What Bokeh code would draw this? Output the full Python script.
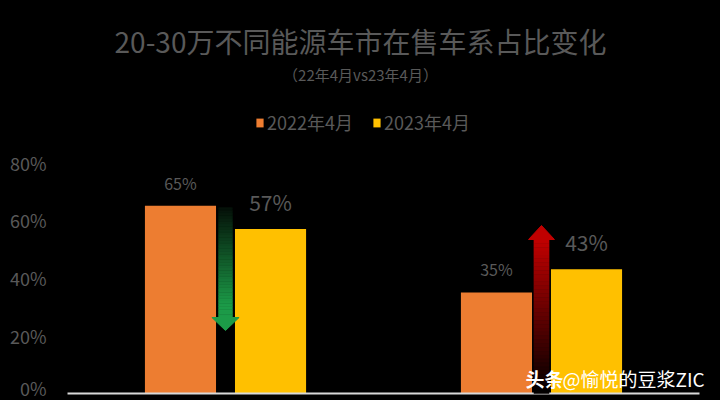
from bokeh.plotting import figure
from bokeh.models import (ColumnDataSource, Range1d, FactorRange, FixedTicker, PrintfTickFormatter,
                          Legend, LegendItem, Label)
from bokeh.transform import dodge
from bokeh.core.properties import value
from bokeh.embed import file_html
from bokeh.resources import INLINE

# ---------------- data ----------------
categories = ["燃油车", "新能源车"]
series_labels = ["2022年4月", "2023年4月"]
share_2022 = [65, 35]
share_2023 = [57, 43]
y_ticks = [0, 20, 40, 60, 80]
title_text = "20-30万不同能源车市在售车系占比变化"
subtitle_text = "（22年4月vs23年4月）"
watermark_head = "头条"
watermark_tail = "@愉悦的豆浆ZIC"

# ---------------- style ----------------
FONT = value("Noto Sans CJK SC")
GRAY = "#595959"
ORANGE = "#ED7D31"
YELLOW = "#FFC000"
W, H = 720, 400
LEFT = 46                      # frame starts here and runs to the right edge
PAD = 0.0665                   # categorical padding (synthetic units) on both sides
PXU = (W - LEFT) / (len(categories) + 2 * PAD)   # pixels per category unit
PX = (393 - 162) / 80.0        # pixels per percent
Y1 = 393 / PX
Y0 = -(H - 393) / PX


def v_at(page_y):
    """data y for a page pixel row (layout helper)"""
    return Y1 - page_y / PX


def x_at(page_x):
    """synthetic categorical x for a page pixel column (layout helper)"""
    return -PAD + (page_x - LEFT) / PXU


p = figure(width=W, height=H,
           x_range=FactorRange(*categories, range_padding=PAD, range_padding_units="absolute"),
           y_range=Range1d(Y0, Y1),
           output_backend="svg", toolbar_location=None,
           min_border_left=LEFT, min_border_right=0, min_border_top=0, min_border_bottom=0,
           styles={"background-color": "black"})
p.background_fill_color = "black"
p.border_fill_color = "black"
p.outline_line_color = None
p.grid.visible = False
p.xaxis.visible = False

ya = p.yaxis[0]
ya.ticker = FixedTicker(ticks=y_ticks)
ya.formatter = PrintfTickFormatter(format="%d%%")
ya.axis_line_color = None
ya.major_tick_line_color = None
ya.major_tick_out = 0
ya.major_tick_in = 0
ya.minor_tick_line_color = None
ya.minor_tick_out = 0
ya.major_label_text_color = GRAY
ya.major_label_text_font = "Noto Sans CJK SC"
ya.major_label_text_font_size = "18px"
ya.major_label_standoff = 0

src = ColumnDataSource(dict(
    cat=categories,
    v2022=share_2022,
    v2023=share_2023,
    l2022=[f"{v}%" for v in share_2022],
    l2023=[f"{v}%" for v in share_2023],
))

OFF = 0.1425
BW = 0.225
r1 = p.vbar(x=dodge("cat", -OFF, range=p.x_range), top="v2022", width=BW, source=src,
            fill_color=ORANGE, line_color=None)
r2 = p.vbar(x=dodge("cat", OFF, range=p.x_range), top="v2023", width=BW, source=src,
            fill_color=YELLOW, line_color=None)

p.text(x=dodge("cat", -OFF, range=p.x_range), y="v2022", text="l2022", source=src,
       text_align="center", text_baseline="middle", y_offset=-23,
       text_font=FONT, text_font_size="16px", text_color=GRAY)
p.text(x=dodge("cat", OFF, range=p.x_range), y="v2023", text="l2023", source=src,
       text_align="center", text_baseline="middle", y_offset=-27,
       text_font=FONT, text_font_size="21px", text_color=GRAY)

# baseline across the category area
p.segment(x0=[0], x1=[len(categories)], y0=[0], y1=[0], line_color="#d9d9d9", line_width=2)


# ---------------- change arrows ----------------
def lerp(c1, c2, t):
    a = [int(c1[i:i + 2], 16) for i in (1, 3, 5)]
    b = [int(c2[i:i + 2], 16) for i in (1, 3, 5)]
    return "#" + "".join(f"{round(a[k] + (b[k] - a[k]) * t):02x}" for k in range(3))


def arrow(cx, shaft_from, shaft_to, head_to, half_shaft, half_head, col_from, col_to, fade_to, head_col):
    n = 40
    lefts, rights, tops, bottoms, cols = [], [], [], [], []
    for i in range(n):
        a = shaft_from + (shaft_to - shaft_from) * i / n
        b = shaft_from + (shaft_to - shaft_from) * (i + 1) / n
        mid = (a + b) / 2
        t = (mid - shaft_from) / (fade_to - shaft_from)
        t = max(0.0, min(1.0, t))
        lefts.append(cx - half_shaft)
        rights.append(cx + half_shaft)
        tops.append(max(a, b))
        bottoms.append(min(a, b))
        cols.append(lerp(col_from, col_to, t))
    p.quad(left=lefts, right=rights, top=tops, bottom=bottoms, fill_color=cols, line_color=cols, line_width=0.5)
    p.patch([cx - half_head, cx + half_head, cx], [shaft_to, shaft_to, head_to],
            fill_color=head_col, line_color=head_col)


c0 = categories.index("燃油车") + 0.5
c1 = categories.index("新能源车") + 0.5
# green: downward (decline 2022 -> 2023)
arrow(c0, v_at(207), v_at(317), v_at(330), 0.022, 0.043,
      "#050f08", "#1c9b48", v_at(305), "#1c9b48")
# red: upward (increase 2022 -> 2023)
arrow(c1, 0, v_at(239), v_at(225), 0.024, 0.041,
      "#000000", "#c00000", v_at(240), "#c00000")

# ---------------- titles ----------------
p.text(x=[x_at(360)], y=[v_at(40)], text=[title_text], text_align="center", text_baseline="middle",
       text_font=FONT, text_font_size="28px", text_color=GRAY)
p.text(x=[x_at(360)], y=[v_at(74)], text=[subtitle_text], text_align="center", text_baseline="middle",
       text_font=FONT, text_font_size="15px", text_color=GRAY)

legend = Legend(items=[LegendItem(label=series_labels[0], renderers=[r1]),
                       LegendItem(label=series_labels[1], renderers=[r2])],
                orientation="horizontal", location=(189 + 66 - LEFT, 265),
                glyph_width=9, glyph_height=11, label_standoff=3, spacing=19,
                padding=0, margin=0, border_line_alpha=0, background_fill_alpha=0,
                label_text_font="Noto Sans CJK SC", label_text_font_size="18px",
                label_text_color=GRAY)
p.add_layout(legend, "center")

# ---------------- watermark ----------------
p.add_layout(Label(x=x_at(525), y=v_at(378), text=watermark_head, text_align="left",
                   text_baseline="middle", text_font="Noto Sans CJK SC", text_font_size="19px",
                   text_font_style="bold", text_color="white"))
p.add_layout(Label(x=x_at(562), y=v_at(378), text=watermark_tail, text_align="left",
                   text_baseline="middle", text_font="Noto Sans CJK SC", text_font_size="19px",
                   text_color="white"))

open("out.html", "w").write(file_html(p, INLINE))
